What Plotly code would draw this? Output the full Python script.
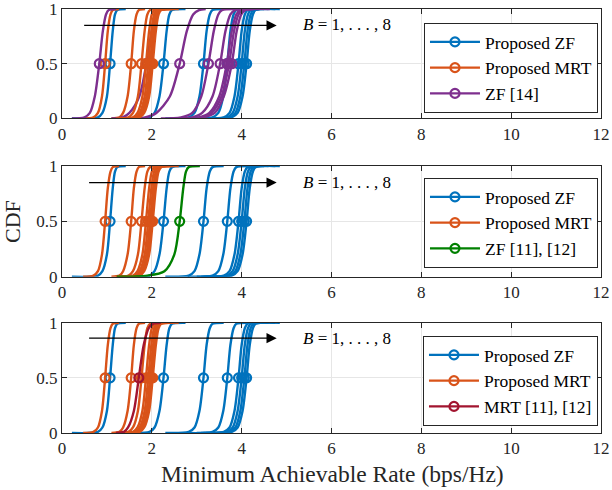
import plotly.graph_objects as go

# CDF levels at which curve positions were read (quantiles)
levels = [0, 0.01, 0.05, 0.2, 0.5, 0.8, 0.95, 0.99, 1]

# Proposed ZF, B = 1..8 (rate at each CDF level)
zf_prop = [
    [0.22, 0.80, 0.90, 1.00, 1.07, 1.13, 1.18, 1.23, 1.42],
    [1.50, 1.95, 2.06, 2.17, 2.26, 2.33, 2.39, 2.45, 2.75],
    [2.30, 2.82, 2.95, 3.06, 3.15, 3.22, 3.29, 3.35, 3.60],
    [2.80, 3.35, 3.48, 3.59, 3.68, 3.75, 3.82, 3.88, 4.20],
    [3.00, 3.60, 3.73, 3.84, 3.93, 4.00, 4.07, 4.13, 4.50],
    [3.10, 3.67, 3.80, 3.91, 4.00, 4.07, 4.14, 4.20, 4.60],
    [3.15, 3.73, 3.86, 3.97, 4.06, 4.13, 4.20, 4.26, 4.75],
    [3.20, 3.78, 3.91, 4.02, 4.11, 4.18, 4.25, 4.31, 4.85],
]
# Proposed MRT, B = 1..8
mrt_prop = [
    [0.47, 0.70, 0.80, 0.89, 0.96, 1.02, 1.08, 1.13, 1.27],
    [1.10, 1.28, 1.36, 1.46, 1.54, 1.60, 1.66, 1.71, 1.85],
    [1.20, 1.48, 1.58, 1.69, 1.77, 1.84, 1.90, 1.96, 2.20],
    [1.25, 1.58, 1.68, 1.79, 1.87, 1.94, 2.00, 2.06, 2.30],
    [1.30, 1.63, 1.73, 1.84, 1.92, 1.99, 2.05, 2.11, 2.40],
    [1.32, 1.67, 1.77, 1.88, 1.96, 2.03, 2.09, 2.15, 2.45],
    [1.35, 1.70, 1.80, 1.91, 1.99, 2.06, 2.12, 2.18, 2.50],
    [1.38, 1.73, 1.83, 1.94, 2.02, 2.09, 2.15, 2.21, 2.60],
]
# ZF [14], B = 1..8
zf_14 = [
    [0.22, 0.50, 0.62, 0.73, 0.83, 0.91, 0.98, 1.04, 1.20],
    [1.10, 1.35, 1.50, 1.72, 1.88, 2.00, 2.10, 2.18, 2.30],
    [1.40, 1.85, 2.10, 2.40, 2.62, 2.78, 2.92, 3.05, 3.20],
    [2.20, 2.65, 2.90, 3.10, 3.26, 3.38, 3.48, 3.56, 3.90],
    [2.40, 2.90, 3.12, 3.35, 3.52, 3.64, 3.75, 3.85, 4.10],
    [2.50, 3.05, 3.28, 3.50, 3.67, 3.78, 3.88, 3.97, 4.30],
    [2.60, 3.10, 3.33, 3.55, 3.72, 3.83, 3.93, 4.02, 4.40],
    [2.70, 3.15, 3.40, 3.60, 3.78, 3.89, 3.99, 4.08, 4.63],
]
# ZF [11], [12]
zf_1112 = [1.22, 1.90, 2.28, 2.50, 2.62, 2.70, 2.76, 2.82, 3.07]
# MRT [11], [12]
mrt_1112 = [1.20, 1.38, 1.47, 1.60, 1.71, 1.82, 1.93, 2.02, 2.20]

names = ["Proposed ZF", "Proposed MRT"]
third_names = ["ZF [14]", "ZF [11], [12]", "MRT [11], [12]"]

C_ZF = "#0072BD"
C_MRT = "#D95319"
C_ZF14 = "#7E2F8E"
C_GREEN = "#008000"
C_RED = "#A2142F"

FONT = "Liberation Serif, Times New Roman, Times, serif"
AX = "#262626"
LW = 2.4

fig = go.Figure()

def add_curve(q, color, sub):
    xa = "x" if sub == 1 else f"x{sub}"
    ya = "y" if sub == 1 else f"y{sub}"
    fig.add_trace(go.Scatter(x=q, y=levels, mode="lines", xaxis=xa, yaxis=ya,
                             line=dict(color=color, width=LW, shape="spline", smoothing=0.8),
                             showlegend=False, hoverinfo="skip"))
    fig.add_trace(go.Scatter(x=[q[4]], y=[levels[4]], mode="markers", xaxis=xa, yaxis=ya,
                             marker=dict(symbol="circle-open", size=9, color=color,
                                         line=dict(width=2.2, color=color)),
                             showlegend=False, hoverinfo="skip"))

def add_legend(name, color, sub):
    xa = "x" if sub == 1 else f"x{sub}"
    ya = "y" if sub == 1 else f"y{sub}"
    lg = "legend" if sub == 1 else f"legend{sub}"
    fig.add_trace(go.Scatter(x=[None], y=[None], mode="lines+markers", name=name,
                             xaxis=xa, yaxis=ya, legend=lg,
                             line=dict(color=color, width=LW),
                             marker=dict(symbol="circle-open", size=9, color=color,
                                         line=dict(width=2.2, color=color))))

third_sets = [zf_14, None, None]
third_single = [None, zf_1112, mrt_1112]
third_colors = [C_ZF14, C_GREEN, C_RED]

for sub in (1, 2, 3):
    for b in range(8):
        add_curve(zf_prop[b], C_ZF, sub)
        add_curve(mrt_prop[b], C_MRT, sub)
        if third_sets[sub - 1] is not None:
            add_curve(third_sets[sub - 1][b], third_colors[sub - 1], sub)
    if third_single[sub - 1] is not None:
        add_curve(third_single[sub - 1], third_colors[sub - 1], sub)
    add_legend(names[0], C_ZF, sub)
    add_legend(names[1], C_MRT, sub)
    add_legend(third_names[sub - 1], third_colors[sub - 1], sub)

domains = [[0.742, 1.0], [0.3686, 0.6297], [0.0, 0.2601]]
axis_common = dict(showline=True, linecolor=AX, linewidth=1, mirror="ticks",
                   ticks="inside", ticklen=5, tickcolor=AX, showgrid=True,
                   gridcolor="#e6e6e6", gridwidth=1, zeroline=False, automargin=False,
                   ticklabeloverflow="allow",
                   tickfont=dict(family=FONT, size=17, color=AX))
layout = dict(width=612, height=490, plot_bgcolor="white", paper_bgcolor="white",
              margin=dict(l=62, r=11, t=9, b=57), showlegend=True)
for i in range(3):
    sfx = "" if i == 0 else str(i + 1)
    layout["xaxis" + sfx] = dict(axis_common, range=[0, 12], tickvals=[0, 2, 4, 6, 8, 10, 12],
                                 domain=[0, 1], anchor="y" + sfx)
    layout["yaxis" + sfx] = dict(axis_common, range=[0, 1], tickvals=[0, 0.5, 1],
                                 ticktext=["0", "0.5", "1"], domain=domains[i], anchor="x" + sfx)

leg_y = [0.7547, 0.3892, 0.0165]
for i in range(3):
    key = "legend" if i == 0 else f"legend{i + 1}"
    layout[key] = dict(x=0.9944, y=leg_y[i], xanchor="right", yanchor="bottom",
                       bgcolor="white", bordercolor=AX, borderwidth=1,
                       font=dict(family=FONT, size=17.5, color="black"),
                       tracegroupgap=0, itemwidth=50)

fig.update_layout(**layout)

arrow_y = [0.85, 0.85, 0.86]
arrow_x0 = [0.46, 0.57, 0.57]
text_y = [0.856, 0.855, 0.86]
for i in range(3):
    sfx = "" if i == 0 else str(i + 1)
    fig.add_annotation(x=4.78, y=arrow_y[i], ax=arrow_x0[i], ay=arrow_y[i],
                       xref="x" + sfx, yref="y" + sfx, axref="x" + sfx, ayref="y" + sfx,
                       text="", showarrow=True, arrowhead=2, arrowsize=1.7,
                       arrowwidth=1.2, arrowcolor="black", standoff=0, startstandoff=0)
    fig.add_annotation(x=5.32, y=text_y[i], xref="x" + sfx, yref="y" + sfx,
                       text="<i>B</i> = 1, . . . , 8", showarrow=False, xanchor="left",
                       yanchor="middle", font=dict(family=FONT, size=17, color="black"))

fig.add_annotation(x=-0.0928, y=0.5, xref="paper", yref="paper", text="CDF",
                   textangle=-90, showarrow=False, xanchor="center", yanchor="middle",
                   font=dict(family=FONT, size=22, color=AX))
fig.add_annotation(x=0.501, y=-0.097, xref="paper", yref="paper",
                   text="Minimum Achievable Rate (bps/Hz)", showarrow=False,
                   xanchor="center", yanchor="middle",
                   font=dict(family=FONT, size=23.5, color=AX))

fig.write_html("out.html", config={"displayModeBar": False},
               post_script="document.body.style.margin='0';document.body.style.overflow='hidden';")
